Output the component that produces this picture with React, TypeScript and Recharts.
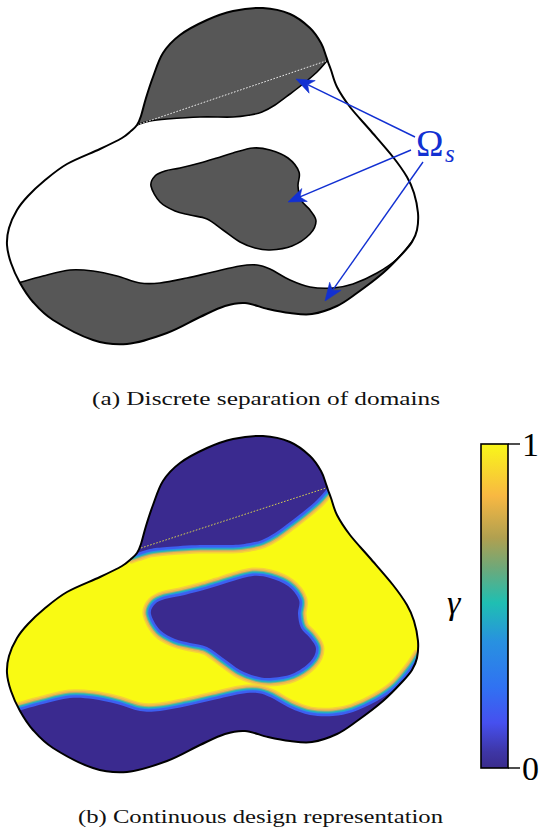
import React from 'react';
import { ScatterChart, Scatter, XAxis, YAxis, Customized } from 'recharts';

type Pt = { x: number; y: number };

// outline of the whole domain (closed)
const outerBoundary: Pt[] = [
  { x: 137, y: 125 }, { x: 141, y: 116 }, { x: 146, y: 98 }, { x: 153, y: 77 },
  { x: 163, y: 53 }, { x: 180, y: 35 }, { x: 207, y: 20 }, { x: 233, y: 11 },
  { x: 263, y: 8 }, { x: 290, y: 14 }, { x: 310, y: 28 }, { x: 321, y: 43 },
  { x: 326, y: 56 }, { x: 328, y: 62 }, { x: 331, y: 70 }, { x: 337, y: 87 },
  { x: 350, y: 107 }, { x: 370, y: 130 }, { x: 393, y: 157 }, { x: 407, y: 177 },
  { x: 414, y: 193 }, { x: 418, y: 213 }, { x: 417, y: 230 }, { x: 412, y: 242 },
  { x: 403, y: 253 }, { x: 383, y: 273 }, { x: 357, y: 293 }, { x: 337, y: 306 },
  { x: 312, y: 314 }, { x: 290, y: 313 }, { x: 268, y: 309 }, { x: 245, y: 303 },
  { x: 225, y: 306 }, { x: 200, y: 317 }, { x: 167, y: 333 }, { x: 127, y: 344 },
  { x: 93, y: 340 }, { x: 53, y: 320 }, { x: 33, y: 302 }, { x: 20, y: 283 },
  { x: 11, y: 263 }, { x: 7, y: 245 }, { x: 9, y: 228 }, { x: 17, y: 210 },
  { x: 28, y: 196 }, { x: 44, y: 181 }, { x: 67, y: 164 }, { x: 100, y: 149 },
  { x: 122, y: 138 }, { x: 131, y: 131 },
];

// solid/fluid interfaces (open curves, run a bit past the boundary)
const topInterface: Pt[] = [
  { x: 128, y: 128 }, { x: 137, y: 125 }, { x: 150, y: 121 }, { x: 167, y: 119 },
  { x: 200, y: 117 }, { x: 233, y: 117 }, { x: 250, y: 115 }, { x: 262, y: 112 },
  { x: 275, y: 105 }, { x: 290, y: 94 }, { x: 303, y: 84 }, { x: 317, y: 72 },
  { x: 326, y: 62 }, { x: 332, y: 55 },
];
const topCap: Pt[] = [{ x: 345, y: 0 }, { x: 120, y: 0 }];

const bottomInterface: Pt[] = [
  { x: 4, y: 287 }, { x: 18, y: 283 }, { x: 43, y: 276 }, { x: 70, y: 270 },
  { x: 93, y: 271 }, { x: 117, y: 276 }, { x: 140, y: 283 }, { x: 160, y: 283 },
  { x: 187, y: 278 }, { x: 213, y: 272 }, { x: 240, y: 266 }, { x: 257, y: 265 },
  { x: 270, y: 269 }, { x: 290, y: 280 }, { x: 310, y: 287 }, { x: 333, y: 288 },
  { x: 353, y: 284 }, { x: 377, y: 273 }, { x: 397, y: 259 }, { x: 413, y: 240 },
  { x: 422, y: 226 },
];
const bottomCap: Pt[] = [{ x: 440, y: 370 }, { x: 0, y: 370 }];

// enclosed solid island (closed)
const innerBlob: Pt[] = [
  { x: 151, y: 186 }, { x: 155, y: 176 }, { x: 165, y: 171 }, { x: 180, y: 168 },
  { x: 200, y: 163 }, { x: 217, y: 158 }, { x: 233, y: 153 }, { x: 253, y: 148 },
  { x: 270, y: 150 }, { x: 288, y: 158 }, { x: 299, y: 172 }, { x: 298, y: 186 },
  { x: 301, y: 200 }, { x: 310, y: 210 }, { x: 316, y: 221 }, { x: 310, y: 234 },
  { x: 292, y: 246 }, { x: 270, y: 250 }, { x: 255, y: 248 }, { x: 240, y: 242 },
  { x: 223, y: 230 }, { x: 207, y: 219 }, { x: 190, y: 215 }, { x: 175, y: 211 },
  { x: 160, y: 202 },
];

const chordA: Pt[] = [{ x: 137, y: 125 }, { x: 326, y: 61 }];
const chordB: Pt[] = [{ x: 141, y: 120 }, { x: 326, y: 60 }];

const arrow1: Pt[] = [{ x: 415, y: 137 }, { x: 296, y: 79 }];
const arrow2: Pt[] = [{ x: 411, y: 150 }, { x: 288, y: 202 }];
const arrow3: Pt[] = [{ x: 423, y: 162 }, { x: 325, y: 301 }];

const colorbarFrame: Pt[] = [{ x: 481, y: 444 }, { x: 508, y: 768 }];
const colorbarTicks = [
  { x: 508, y: 444, label: '1' },
  { x: 508, y: 768, label: '0' },
];
const colorbarStops = [
  { t: 0, c: '#3a2c8c' },
  { t: 0.05, c: '#3e36a6' },
  { t: 0.14, c: '#4650ef' },
  { t: 0.25, c: '#3072f2' },
  { t: 0.39, c: '#2891e0' },
  { t: 0.51, c: '#1fbfb2' },
  { t: 0.62, c: '#70a878' },
  { t: 0.71, c: '#b0a050' },
  { t: 0.84, c: '#f8b842' },
  { t: 1, c: '#f9f719' },
];

const BLUE = '#1230d2';
const GREY = '#575757';
const DARK = '#3a2a8f';
const YELLOW = '#f9fa13';
const SERIF = '"Liberation Serif", "DejaVu Serif", serif';

// interface band in (b), widest first
const bands = [
  { w: 17, c: '#f4d23a' },
  { w: 14, c: '#eeb54f' },
  { w: 11, c: '#8fb27a' },
  { w: 9, c: '#26b7b3' },
  { w: 7, c: '#2b92e4' },
  { w: 5, c: '#3d5ff1' },
];

// catmull-rom through points -> cubic path
function smooth(pts: Pt[], closed: boolean): string {
  const n = pts.length;
  if (n < 2) return '';
  let d = `M${pts[0].x},${pts[0].y}`;
  const segs = closed ? n : n - 1;
  for (let i = 0; i < segs; i++) {
    const p0 = closed ? pts[(i - 1 + n) % n] : pts[Math.max(i - 1, 0)];
    const p1 = pts[i];
    const p2 = pts[(i + 1) % n];
    const p3 = closed ? pts[(i + 2) % n] : pts[Math.min(i + 2, n - 1)];
    const c1x = p1.x + (p2.x - p0.x) / 6;
    const c1y = p1.y + (p2.y - p0.y) / 6;
    const c2x = p2.x - (p3.x - p1.x) / 6;
    const c2y = p2.y - (p3.y - p1.y) / 6;
    d += ` C${c1x},${c1y} ${c2x},${c2y} ${p2.x},${p2.y}`;
  }
  return closed ? d + ' Z' : d;
}

const noShape = () => <g />;

const outerFill = (clipId: string, fill: string) => (lp: any) => {
  const d = smooth(lp.points, true);
  return (
    <g>
      <defs>
        <clipPath id={clipId}>
          <path d={d} />
        </clipPath>
      </defs>
      <path d={d} fill={fill} stroke="none" />
    </g>
  );
};

const outerEdge = (lp: any) => (
  <path d={smooth(lp.points, true)} fill="none" stroke="#000" strokeWidth={2} strokeLinejoin="round" />
);

const region = (o: { cap: number; fill: string; clip?: string; edge?: boolean; band?: boolean; closed?: boolean }) =>
  (lp: any) => {
    const pts: Pt[] = lp.points;
    const curve = o.cap ? pts.slice(0, pts.length - o.cap) : pts;
    const cap = o.cap ? pts.slice(pts.length - o.cap) : [];
    const cd = smooth(curve, !!o.closed);
    const fd = o.closed ? cd : cd + cap.map((p) => ` L${p.x},${p.y}`).join('') + ' Z';
    return (
      <g clipPath={o.clip ? `url(#${o.clip})` : undefined}>
        {o.band && bands.map((b, i) => (
          <path key={i} d={cd} fill="none" stroke={b.c} strokeWidth={b.w} strokeLinejoin="round" />
        ))}
        <path d={fd} fill={o.fill} stroke="none" />
        {o.edge && <path d={cd} fill="none" stroke="#000" strokeWidth={1.6} />}
      </g>
    );
  };

const chord = (color: string) => (lp: any) => {
  const [a, b] = lp.points;
  return <line x1={a.x} y1={a.y} x2={b.x} y2={b.y} stroke={color} strokeWidth={0.9} strokeDasharray="1.6 1.6" />;
};

const arrow = (lp: any) => {
  const [a, b] = lp.points;
  const len = Math.hypot(b.x - a.x, b.y - a.y);
  const ux = (b.x - a.x) / len;
  const uy = (b.y - a.y) / len;
  const nx = -uy;
  const ny = ux;
  const L = 18;
  const W = 7;
  const inset = 5;
  const bx = b.x - ux * L;
  const by = b.y - uy * L;
  const ix = b.x - ux * (L - inset);
  const iy = b.y - uy * (L - inset);
  const head = `M${b.x},${b.y} L${bx + nx * W},${by + ny * W} L${ix},${iy} L${bx - nx * W},${by - ny * W} Z`;
  return (
    <g>
      <line x1={a.x} y1={a.y} x2={ix} y2={iy} stroke={BLUE} strokeWidth={1.4} />
      <path d={head} fill={BLUE} stroke={BLUE} strokeWidth={0.6} strokeLinejoin="round" />
    </g>
  );
};

const colorbar = (lp: any) => {
  const [a, b] = lp.points;
  return (
    <g>
      <defs>
        <linearGradient id="parula" x1="0" y1="1" x2="0" y2="0">
          {colorbarStops.map((s, i) => (
            <stop key={i} offset={s.t} stopColor={s.c} />
          ))}
        </linearGradient>
      </defs>
      <rect
        x={Math.min(a.x, b.x)}
        y={Math.min(a.y, b.y)}
        width={Math.abs(b.x - a.x)}
        height={Math.abs(b.y - a.y)}
        fill="url(#parula)"
        stroke="#000"
        strokeWidth={1.6}
      />
    </g>
  );
};

const tickShape = (p: any) => (
  <g>
    <line x1={p.cx} y1={p.cy} x2={p.cx + 12} y2={p.cy} stroke="#000" strokeWidth={1.4} />
    <text x={p.cx + 14} y={p.cy + 12} fontFamily={SERIF} fontSize={34} fill="#000">
      {p.payload.label}
    </text>
  </g>
);

const TextLayer = () => (
  <g fontFamily={SERIF}>
    <text x={416} y={156} fontSize={37} fill={BLUE}>Ω</text>
    <text x={445} y={162} fontSize={25} fontStyle="italic" fill={BLUE}>s</text>
    <text x={84} y={227} fontSize={37} fill={BLUE}>Ω</text>
    <text x={112} y={233} fontSize={25} fontStyle="italic" fill={BLUE}>f</text>
    <text x={447} y={614} fontSize={34} fontStyle="italic" fill="#000">γ</text>
    <text x={92} y={405} fontSize={19} textLength={348} lengthAdjust="spacingAndGlyphs" fill="#111">
      (a) Discrete separation of domains
    </text>
    <text x={78} y={823} fontSize={19} textLength={365} lengthAdjust="spacingAndGlyphs" fill="#111">
      (b) Continuous design representation
    </text>
  </g>
);

export default function App() {
  return (
    <div style={{ position: 'absolute', left: 0, top: 0, background: '#fff' }}>
      <ScatterChart width={541} height={837} margin={{ top: 0, right: 0, bottom: 0, left: 0 }}>
        <XAxis type="number" dataKey="x" domain={[0, 541]} hide allowDataOverflow />
        <YAxis yAxisId="a" type="number" dataKey="y" domain={[0, 837]} reversed hide allowDataOverflow />
        <YAxis yAxisId="b" type="number" dataKey="y" domain={[-428, 409]} reversed hide allowDataOverflow />

        {/* (a) discrete */}
        <Scatter yAxisId="a" data={outerBoundary} shape={noShape} line={outerFill('clipA', '#fff')} isAnimationActive={false} />
        <Scatter yAxisId="a" data={[...topInterface, ...topCap]} shape={noShape}
          line={region({ cap: topCap.length, fill: GREY, clip: 'clipA', edge: true })} isAnimationActive={false} />
        <Scatter yAxisId="a" data={[...bottomInterface, ...bottomCap]} shape={noShape}
          line={region({ cap: bottomCap.length, fill: GREY, clip: 'clipA', edge: true })} isAnimationActive={false} />
        <Scatter yAxisId="a" data={innerBlob} shape={noShape}
          line={region({ cap: 0, fill: GREY, edge: true, closed: true })} isAnimationActive={false} />
        <Scatter yAxisId="a" data={chordA} shape={noShape} line={chord('#fff')} isAnimationActive={false} />
        <Scatter yAxisId="a" data={outerBoundary} shape={noShape} line={outerEdge} isAnimationActive={false} />
        <Scatter yAxisId="a" data={arrow1} shape={noShape} line={arrow} isAnimationActive={false} />
        <Scatter yAxisId="a" data={arrow2} shape={noShape} line={arrow} isAnimationActive={false} />
        <Scatter yAxisId="a" data={arrow3} shape={noShape} line={arrow} isAnimationActive={false} />

        {/* (b) continuous */}
        <Scatter yAxisId="b" data={outerBoundary} shape={noShape} line={outerFill('clipB', YELLOW)} isAnimationActive={false} />
        <Scatter yAxisId="b" data={[...topInterface, ...topCap]} shape={noShape}
          line={region({ cap: topCap.length, fill: DARK, clip: 'clipB', band: true })} isAnimationActive={false} />
        <Scatter yAxisId="b" data={[...bottomInterface, ...bottomCap]} shape={noShape}
          line={region({ cap: bottomCap.length, fill: DARK, clip: 'clipB', band: true })} isAnimationActive={false} />
        <Scatter yAxisId="b" data={innerBlob} shape={noShape}
          line={region({ cap: 0, fill: DARK, band: true, closed: true })} isAnimationActive={false} />
        <Scatter yAxisId="b" data={chordB} shape={noShape} line={chord('#e6e24a')} isAnimationActive={false} />
        <Scatter yAxisId="b" data={outerBoundary} shape={noShape} line={outerEdge} isAnimationActive={false} />

        {/* colour bar */}
        <Scatter yAxisId="a" data={colorbarFrame} shape={noShape} line={colorbar} isAnimationActive={false} />
        <Scatter yAxisId="a" data={colorbarTicks} shape={tickShape} isAnimationActive={false} />

        <Customized component={TextLayer} />
      </ScatterChart>
    </div>
  );
}
